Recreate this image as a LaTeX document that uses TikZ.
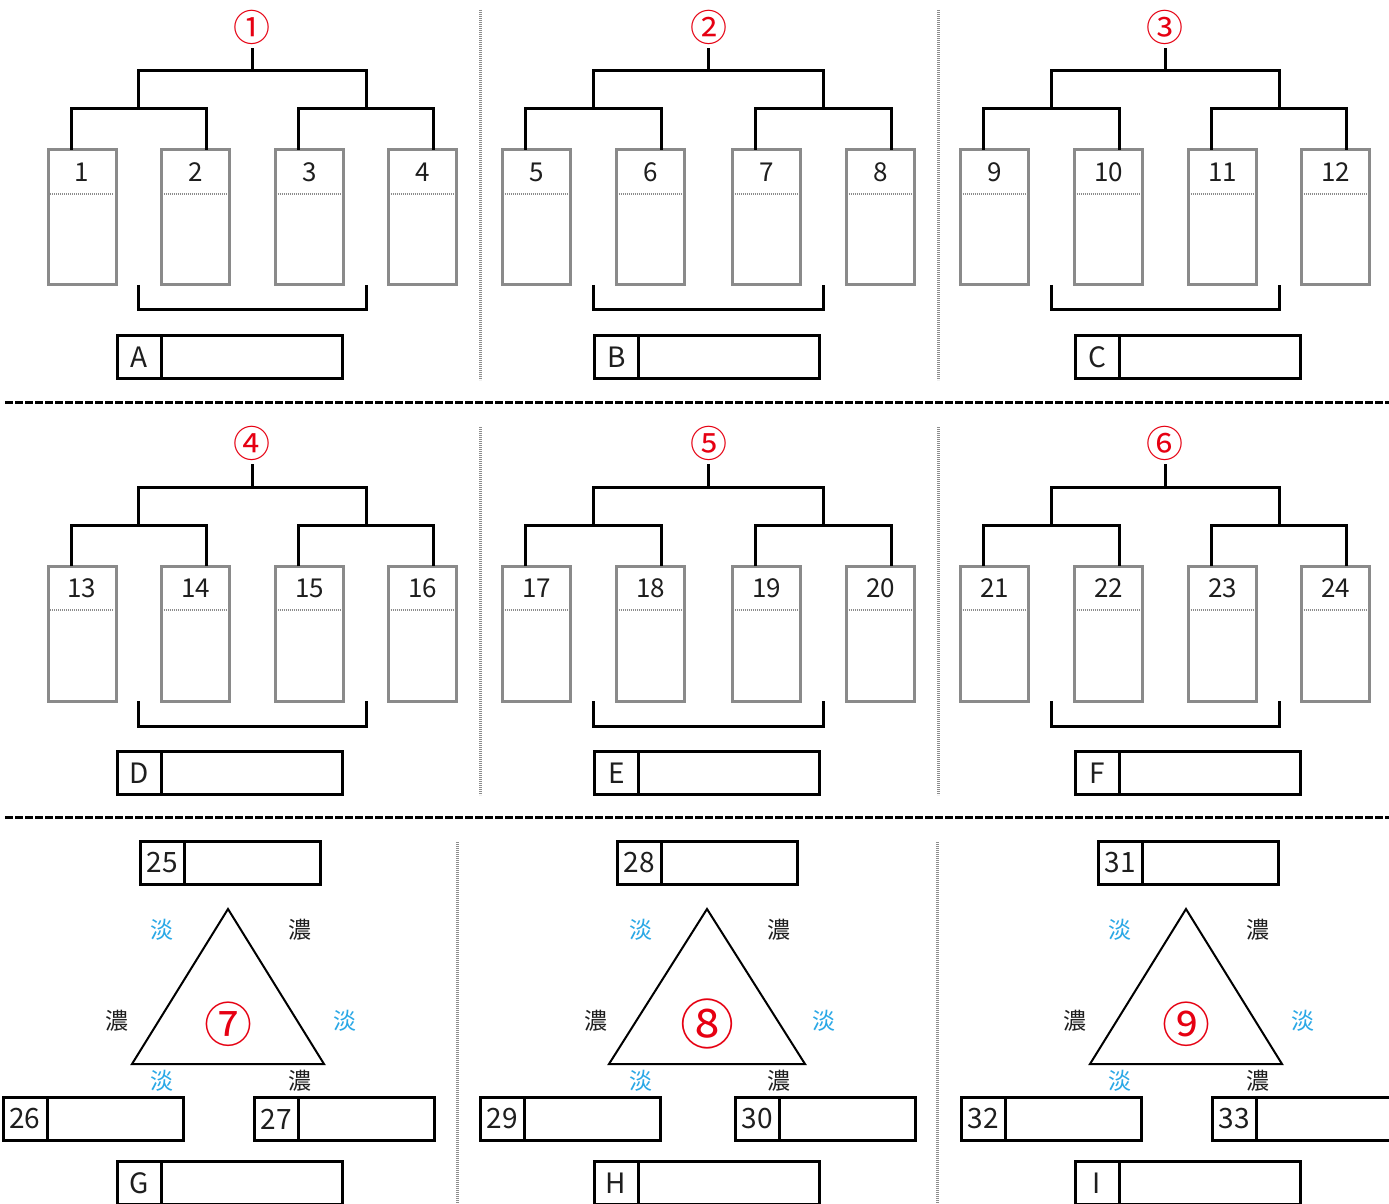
\documentclass[tikz,border=0pt]{standalone}
\usepackage{fontspec}
\setmainfont{Noto Sans CJK JP}
\usetikzlibrary{calc}
\definecolor{boxgray}{HTML}{8A8A8A}
\definecolor{dotgray}{HTML}{8C8C8C}
\definecolor{circred}{HTML}{E60012}
\definecolor{paleblue}{HTML}{2AA8E6}
\definecolor{ink}{HTML}{1E1E1E}

\newcommand\quadpanel[9]{%
  \pgfmathtruncatemacro\qna{4*#1-3}%
  \pgfmathtruncatemacro\qnb{4*#1-2}%
  \pgfmathtruncatemacro\qnc{4*#1-1}%
  \pgfmathtruncatemacro\qnd{4*#1}%
  \node[colbox] (p#1b1) at (#3,217.5+#2) {};
  \node[colbox] (p#1b2) at (#4,217.5+#2) {};
  \node[colbox] (p#1b3) at (#5,217.5+#2) {};
  \node[colbox] (p#1b4) at (#6,217.5+#2) {};
  \node[colnum] (p#1n1) at (#3,172+#2) {\qna};
  \node[colnum] (p#1n2) at (#4,172+#2) {\qnb};
  \node[colnum] (p#1n3) at (#5,172+#2) {\qnc};
  \node[colnum] (p#1n4) at (#6,172+#2) {\qnd};
  \foreach \k in {1,2,3,4}{
    \draw[innerdots] ($(p#1b\k.north west)+(2,44)$) -- ($(p#1b\k.north east)+(-2,44)$);
  }
  \coordinate (p#1m1) at ($(p#1b1.north)!0.5!(p#1b2.north)+(0,-41)$);
  \coordinate (p#1m2) at ($(p#1b3.north)!0.5!(p#1b4.north)+(0,-41)$);
  \draw[tree] ($(p#1b1.north)+(-11,0)$) |- ($(p#1b2.north)+(11,-41)$) -- ($(p#1b2.north)+(11,0)$);
  \draw[tree] ($(p#1b3.north)+(-11,0)$) |- ($(p#1b4.north)+(11,-41)$) -- ($(p#1b4.north)+(11,0)$);
  \draw[tree] (p#1m1) -- ++(0,-38) -| (p#1m2);
  \coordinate (p#1mid) at ($(p#1m1)!0.5!(p#1m2)+(0,-38)$);
  \node[circnum] (p#1c) at ($(p#1mid)+(0,-44)$) {#7};
  \draw[tree] (p#1mid) -- ++(0,-23);
  \draw[tree] (p#1m1 |- p#1b1.south) -- ++(0,25) -| (p#1m2 |- p#1b1.south);
  \node[cellbox] (p#1lab) at (#9,357+#2) {#8};
  \node[bigblank,anchor=west] (p#1blank) at (p#1lab.east) {};
}

% #1 id, #2 apex x, #3 circled number, #4-#6 numbers, #7 letter, #8 shift
\newcommand\tripanel[8]{%
  \coordinate (t#1apex) at (#2,909);
  \coordinate (t#1bl) at (#2-96-#8,1064);
  \coordinate (t#1br) at (#2+96+#8,1064);
  \draw[tri] (t#1apex) -- (t#1br) -- (t#1bl) -- cycle;
  \node[circnum,font=\fontsize{24}{25}\selectfont] (t#1c) at (#2,1024) {#3};
  \node[tan] (t#1k1) at (#2-66,930) {淡};
  \node[nou] (t#1k2) at (#2+72,930) {濃};
  \node[nou] (t#1k3) at (#2-111,1021) {濃};
  \node[tan] (t#1k4) at (#2+117,1021) {淡};
  \node[tan] (t#1k5) at (#2-66,1081) {淡};
  \node[nou] (t#1k6) at (#2+72,1081) {濃};
  \node[cellbox,font=\fontsize{14}{15}\selectfont] (t#1top) at (#2-66-#8,863) {#4};
  \node[smallblank,anchor=west] (t#1topb) at (t#1top.east) {};
  \node[cellbox,font=\fontsize{14}{15}\selectfont] (t#1left) at (#2-203-#8,1119) {#5};
  \node[smallblank,anchor=west] (t#1leftb) at (t#1left.east) {};
  \node[cellbox,font=\fontsize{14}{15}\selectfont] (t#1right) at (#2+48+#8,1119) {#6};
  \node[smallblank,anchor=west] (t#1rightb) at (t#1right.east) {};
  \node[cellbox] (t#1lab) at (#2-89-#8,1183) {#7};
  \node[bigblank,anchor=west] (t#1blank) at (t#1lab.east) {};
}

\begin{document}
\begin{tikzpicture}[x=0.5pt,y=-0.5pt,
  colbox/.style={draw=boxgray,line width=1.5pt,minimum width=34pt,minimum height=67.5pt,inner sep=0pt,outer sep=0pt},
  colnum/.style={font=\fontsize{13}{14}\selectfont,text=ink,inner sep=0pt},
  innerdots/.style={draw=dotgray,line width=1.1pt,dash pattern=on 0.5pt off 0.5pt},
  tree/.style={draw=black,line width=1.5pt},
  circnum/.style={font=\fontsize{18.5}{19}\selectfont,text=circred,inner sep=0pt},
  cellbox/.style={draw=black,line width=1.5pt,minimum width=22pt,minimum height=21.5pt,inner sep=0pt,outer sep=0pt,text=ink,font=\fontsize{14}{15}\selectfont},
  bigblank/.style={draw=black,line width=1.5pt,minimum width=90.5pt,minimum height=21.5pt,inner sep=0pt,outer sep=0pt},
  smallblank/.style={draw=black,line width=1.5pt,minimum width=68pt,minimum height=21.5pt,inner sep=0pt,outer sep=0pt},
  tri/.style={draw=black,line width=1pt,line join=miter},
  tan/.style={text=paleblue,font=\fontsize{11.5}{12}\selectfont,inner sep=0pt},
  nou/.style={text=ink,font=\fontsize{11.5}{12}\selectfont,inner sep=0pt},
  vsep/.style={draw=dotgray,line width=1.5pt,dash pattern=on 0.6pt off 0.4pt},
  hsep/.style={draw=black,line width=1.5pt,dash pattern=on 3.8pt off 1.2pt}
]
\clip (0,0) rectangle (1389,1204);
\useasboundingbox (0,0) rectangle (1389,1204);
\fill[white] (0,0) rectangle (1389,1204);

% row 1
\quadpanel{1}{0}{82}{195.5}{309.5}{422.5}{①}{A}{139}
\quadpanel{2}{0}{536.5}{650.5}{766.5}{880.5}{②}{B}{616.5}
\quadpanel{3}{0}{994.5}{1108.5}{1222.5}{1335.5}{③}{C}{1097}
% row 2
\quadpanel{4}{416}{82}{195.5}{309.5}{422.5}{④}{D}{139}
\quadpanel{5}{416}{536.5}{650.5}{766.5}{880.5}{⑤}{E}{616.5}
\quadpanel{6}{416}{994.5}{1108.5}{1222.5}{1335.5}{⑥}{F}{1097}
% row 3
\tripanel{1}{228}{⑦}{25}{26}{27}{G}{0}
\tripanel{2}{707}{{\fontsize{27}{28}\selectfont ⑧}}{28}{29}{30}{H}{2}
\tripanel{3}{1186}{⑨}{31}{32}{33}{I}{0}

% separators
\draw[vsep] (480,10) -- (480,380);
\draw[vsep] (938,10) -- (938,380);
\draw[vsep] (480,427) -- (480,795);
\draw[vsep] (938,427) -- (938,795);
\draw[vsep] (457,842) -- (457,1204);
\draw[vsep] (937,842) -- (937,1204);
\draw[hsep] (5,402) -- (1389,402);
\draw[hsep] (5,817) -- (1389,817);
\end{tikzpicture}
\end{document}
